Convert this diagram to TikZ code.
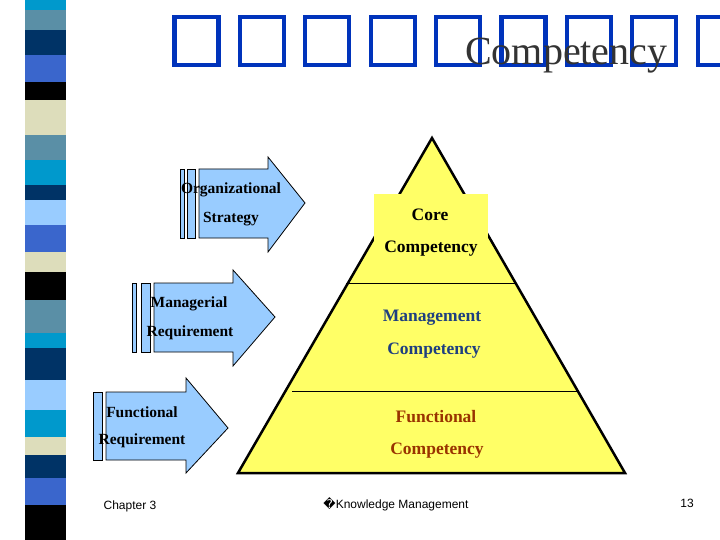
\documentclass[tikz,border=0pt]{standalone}
\usepackage{fontspec}
\setmainfont{Liberation Serif}
\newfontfamily\sans{Liberation Sans}
\newfontfamily\dvs{DejaVu Sans}
\begin{document}
\begin{tikzpicture}[x=1pt,y=-1pt,
  arr/.style={draw=black,fill=arrblue,line width=0.8pt},
  lbl/.style={font=\fontsize{15.5}{15.5}\selectfont\bfseries,inner sep=0pt},
  pl/.style={font=\fontsize{17.5}{17.5}\selectfont\bfseries,inner sep=0pt},
  tofu/.style={draw=tblue,line width=4.3pt},
  foot/.style={font=\sans\fontsize{12}{12}\selectfont,inner sep=0pt}]
\definecolor{arrblue}{HTML}{99CCFF}
\definecolor{pyel}{HTML}{FFFF66}
\definecolor{sc1}{HTML}{0099CC}\definecolor{sc2}{HTML}{5A8FA6}
\definecolor{sc3}{HTML}{003366}\definecolor{sc4}{HTML}{3A66CC}
\definecolor{sc5}{HTML}{000000}\definecolor{sc6}{HTML}{DDDDBB}
\definecolor{sc7}{HTML}{99CCFF}
\definecolor{mblue}{HTML}{1F3F80}\definecolor{fred}{HTML}{993300}
\definecolor{tblue}{HTML}{0033BB}
\useasboundingbox (0,0) rectangle (720,540);
\fill[white] (0,0) rectangle (720,540);
% stripe
\foreach \a/\b/\c in {0/10/sc1,10/30/sc2,30/55/sc3,55/82/sc4,82/100/sc5,100/135/sc6,135/160/sc2,160/185/sc1,185/200/sc3,200/225/sc7,225/252/sc4,252/272/sc6,272/300/sc5,300/333/sc2,333/348/sc1,348/380/sc3,380/410/sc7,410/437/sc1,437/455/sc6,455/478/sc3,478/505/sc4,505/540/sc5}
  \fill[\c] (25,\a) rectangle (66,\b);
% title (missing-glyph boxes)
\begin{scope}
\clip (0,0) rectangle (720,540);
\foreach \i in {0,...,8}
  \draw[tofu] ({174.5+65.4*\i},17) rectangle ({174.5+65.4*\i+44},65);
\end{scope}
\node[inner sep=0pt,anchor=base west,font=\fontsize{40}{40}\selectfont,text=black!80] (t2) at (465,65) {Competency};
% arrows
\draw[arr] (180,169) rectangle (184,238);
\draw[arr] (187,169) rectangle (195,238);
\draw[arr] (199,169) -- (268,169) -- (268,157) -- (305,203) -- (268,252) -- (268,238) -- (199,238) -- cycle;
\draw[arr] (132,283) rectangle (136,352);
\draw[arr] (141,283) rectangle (150,352);
\draw[arr] (154,283) -- (233,283) -- (233,270) -- (275,317) -- (233,366) -- (233,352) -- (154,352) -- cycle;
\draw[arr] (93,392) rectangle (102,460);
\draw[arr] (106,392) -- (186,392) -- (186,378) -- (228,428) -- (186,473) -- (186,460) -- (106,460) -- cycle;
\node[lbl] (a1) at (231,190) {Organizational};
\node[lbl] (a1b) at (231,219) {Strategy};
\node[lbl] (a2) at (189,304) {Managerial};
\node[lbl] (a2b) at (190,333) {Requirement};
\node[lbl] (a3) at (142,412) {Functional};
\node[lbl] (a3b) at (142,441) {Requirement};
% pyramid
\draw[fill=pyel,line width=2.5pt,line join=miter] (432,138) -- (625,473) -- (238,473) -- cycle;
\draw[line width=0.6pt] (346,283) -- (516,283);
\draw[line width=0.6pt] (292,391) -- (578,391);
\fill[pyel] (374,194) rectangle (488,260);
\node[pl] (p1) at (430,215) {Core};
\node[pl] (p2) at (431,249) {Competency};
\node[pl,text=mblue] (p3) at (432,318) {Management};
\node[pl,text=mblue] (p4) at (434,351) {Competency};
\node[pl,text=fred] (p5) at (436,417) {Functional};
\node[pl,text=fred] (p6) at (437,451) {Competency};
% footer
\node[foot] (f1) at (130,506) {Chapter 3};
\node[foot] (f2) at (396,504) {{\dvs\symbol{"FFFD}}Knowledge Management};
\node[foot] (f3) at (687,503) {13};
\end{tikzpicture}
\end{document}
